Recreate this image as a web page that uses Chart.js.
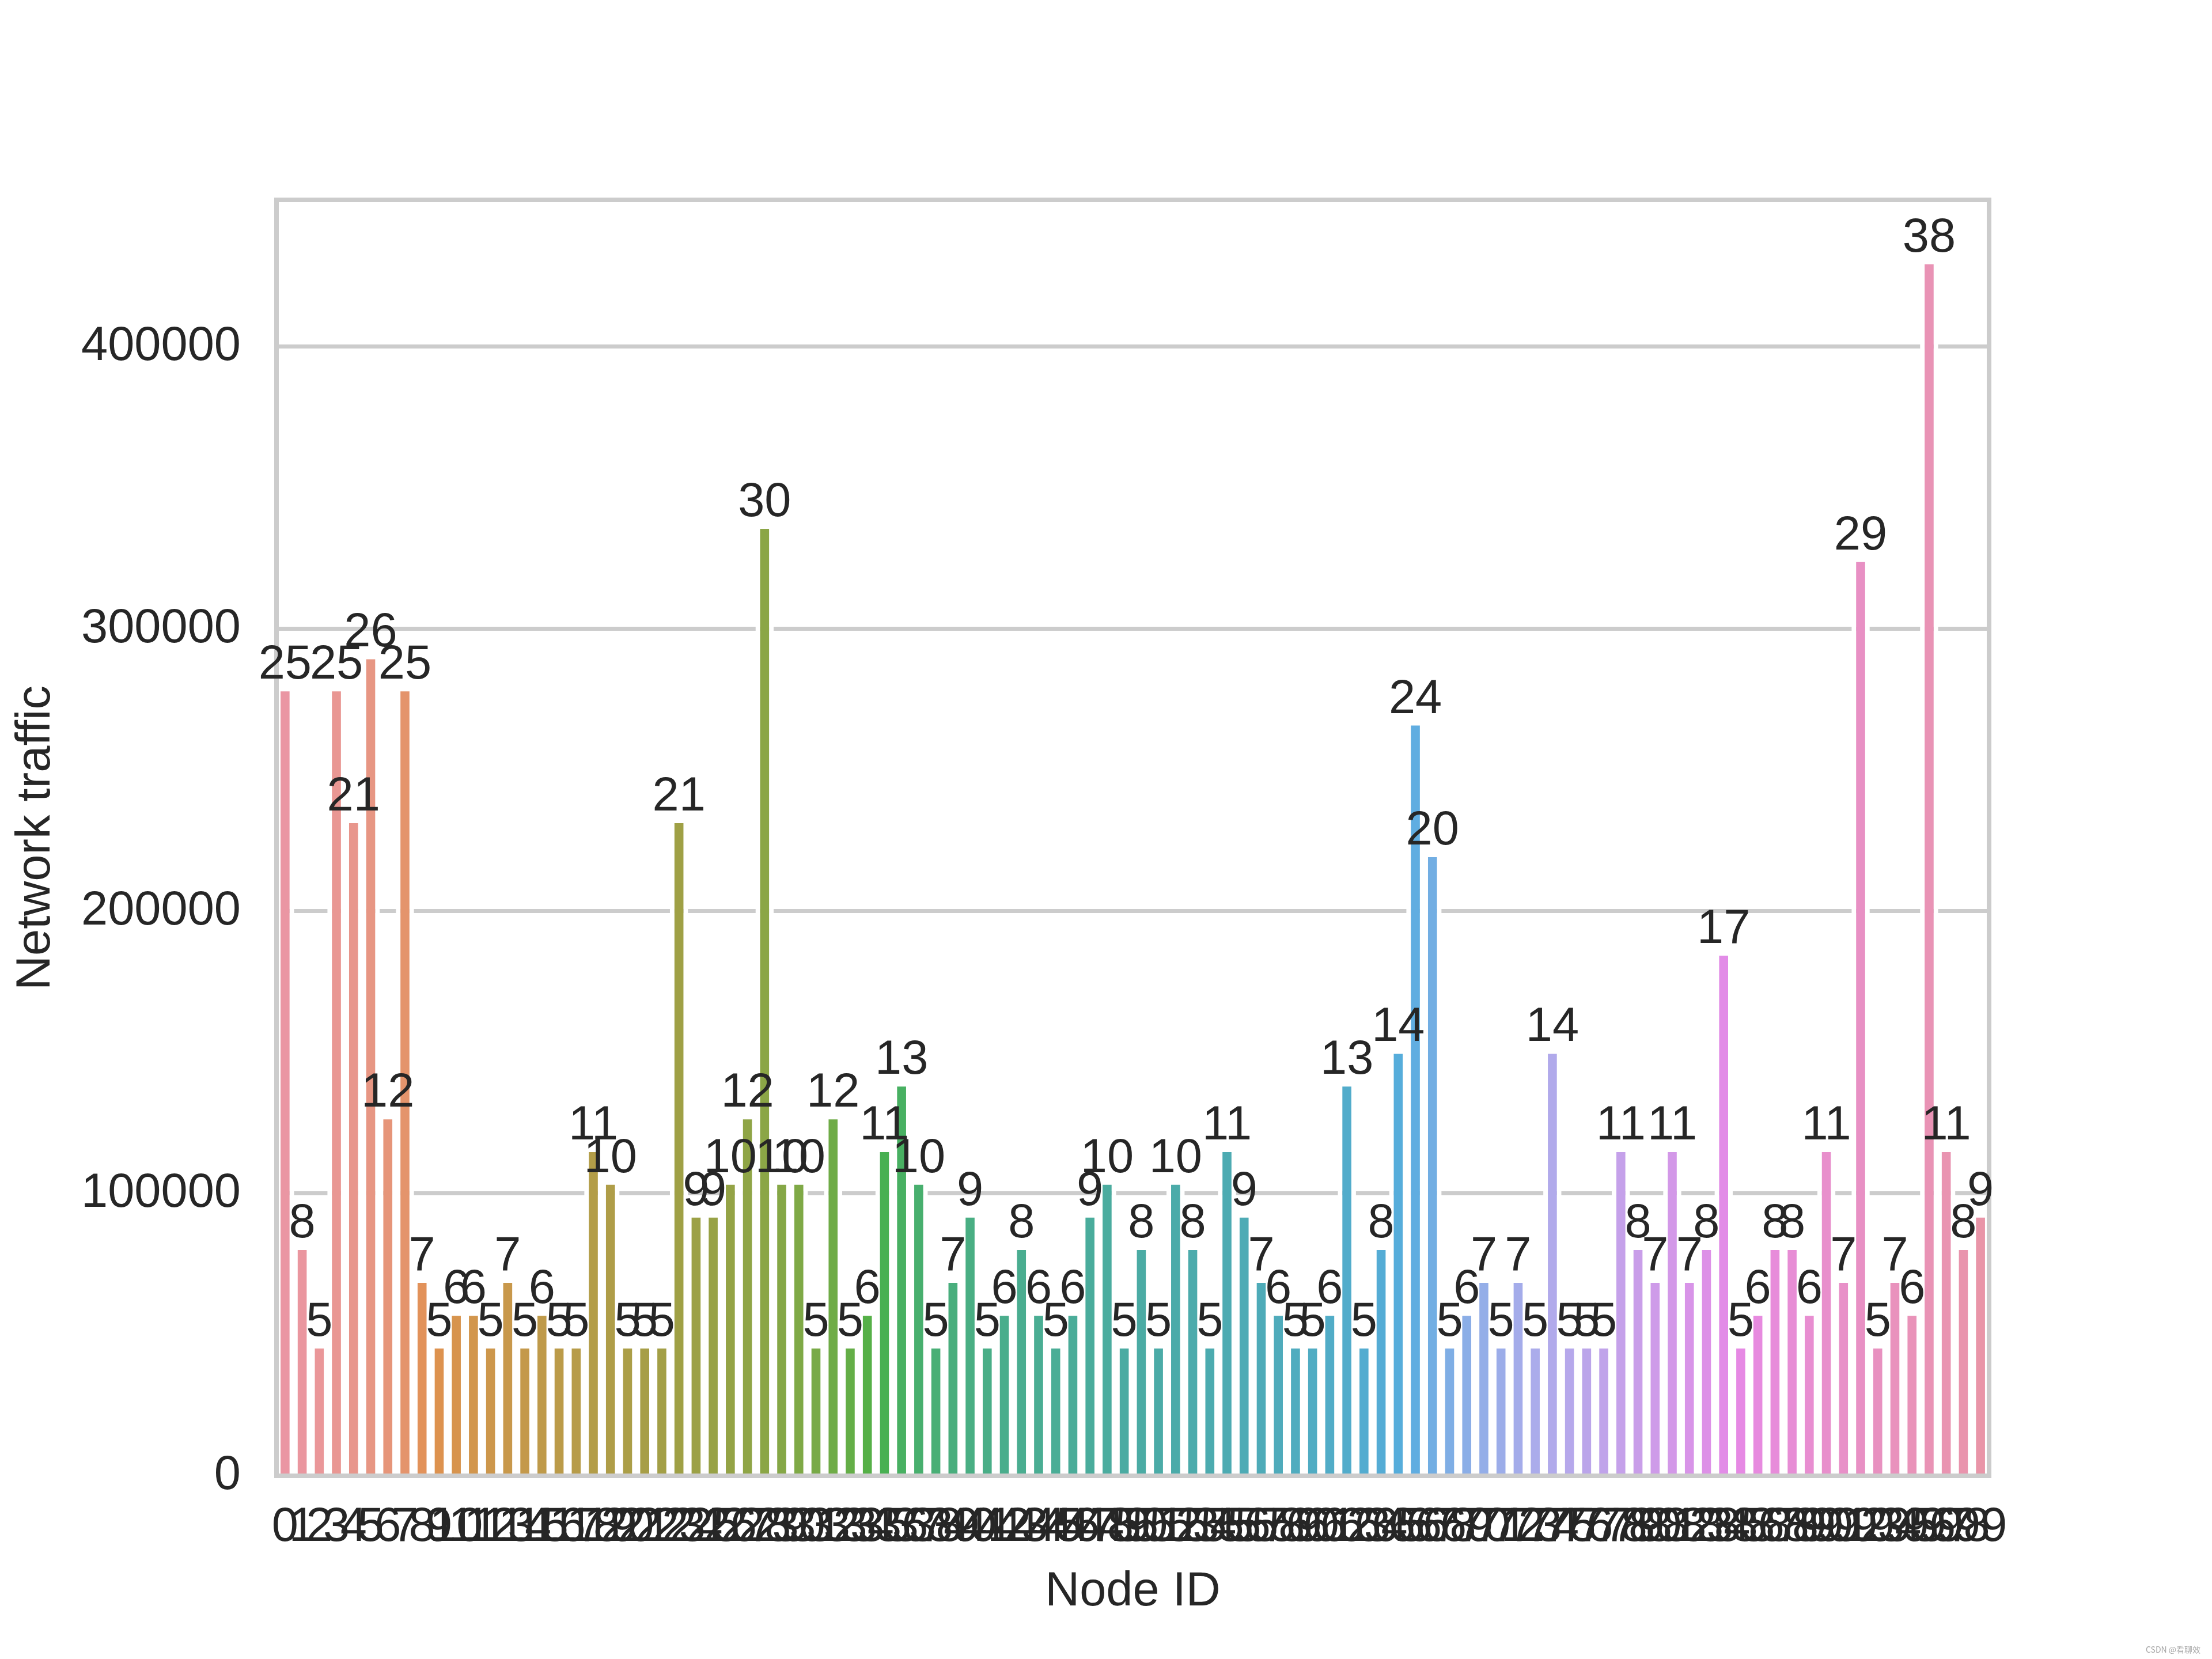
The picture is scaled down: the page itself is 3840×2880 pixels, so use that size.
<!DOCTYPE html>
<html>
<head>
<meta charset="utf-8">
<script src="https://cdn.jsdelivr.net/npm/chart.js@4.4.0/dist/chart.umd.min.js"></script>
<style>
  html, body { margin: 0; padding: 0; background: #fff; }
  #wrap { width: 3840px; height: 2880px; position: relative; }
</style>
</head>
<body>
<div id="wrap"><canvas id="chart" width="3840" height="2880"></canvas></div>
<script>
// node ids 0..99 on the x axis
const nodeIds = Array.from({length: 100}, (_, i) => String(i));

// numbers printed above each bar
const connectionCounts = [
    25, 8, 5, 25, 21, 26, 12, 25, 7, 5,
    6, 6, 5, 7, 5, 6, 5, 5, 11, 10,
    5, 5, 5, 21, 9, 9, 10, 12, 30, 10,
    10, 5, 12, 5, 6, 11, 13, 10, 5, 7,
    9, 5, 6, 8, 6, 5, 6, 9, 10, 5,
    8, 5, 10, 8, 5, 11, 9, 7, 6, 5,
    5, 6, 13, 5, 8, 14, 24, 20, 5, 6,
    7, 5, 7, 5, 14, 5, 5, 5, 11, 8,
    7, 11, 7, 8, 17, 5, 6, 8, 8, 6,
    11, 7, 29, 5, 7, 6, 38, 11, 8, 9
];

// bar heights (network traffic)
const trafficValues = [
    278700, 80800, 45900, 278700, 232000, 290100, 127100, 278700, 69200, 45900,
    57500, 57500, 45900, 69200, 45900, 57500, 45900, 45900, 115500, 103900,
    45900, 45900, 45900, 232000, 92300, 92300, 103900, 127100, 336300, 103900,
    103900, 45900, 127100, 45900, 57500, 115500, 138700, 103900, 45900, 69200,
    92300, 45900, 57500, 80800, 57500, 45900, 57500, 92300, 103900, 45900,
    80800, 45900, 103900, 80800, 45900, 115500, 92300, 69200, 57500, 45900,
    45900, 57500, 138700, 45900, 80800, 150300, 266600, 220000, 45900, 57500,
    69200, 45900, 69200, 45900, 150300, 45900, 45900, 45900, 115500, 80800,
    69200, 115500, 69200, 80800, 185100, 45900, 57500, 80800, 80800, 57500,
    115500, 69200, 324500, 45900, 69200, 57500, 430000, 115500, 80800, 92300
];

const yTicks = [0, 100000, 200000, 300000, 400000];

const FONT = '"Liberation Sans", Arial, sans-serif';
const TEXT = '#262626';

// --- husl palette (s=.9, l=.7) like old seaborn barplot, desaturated to 0.75 ---
const M = [
    [3.2406, -1.5372, -0.4986],
    [-0.9689, 1.8758, 0.0415],
    [0.0557, -0.2040, 1.0570]
];
const refU = 0.19784, refV = 0.46834, labE = 0.008856, labK = 903.3;

function maxChroma(L, H) {
    const hrad = H / 180 * Math.PI;
    const sinH = Math.sin(hrad), cosH = Math.cos(hrad);
    const sub1 = Math.pow(L + 16, 3) / 1560896;
    const sub2 = sub1 > labE ? sub1 : L / labK;
    let result = Infinity;
    M.forEach(row => {
        const [m1, m2, m3] = row;
        const top = (0.99915 * m1 + 1.05122 * m2 + 1.14460 * m3) * sub2;
        const rbottom = 0.86330 * m3 - 0.17266 * m2;
        const lbottom = 0.12949 * m3 - 0.38848 * m1;
        const bottom = (rbottom * sinH + lbottom * cosH) * sub2;
        [0, 1].forEach(t => {
            const C = L * (top - 1.05122 * t) / (bottom + 0.17266 * sinH * t);
            if (C > 0 && C < result) result = C;
        });
    });
    return result;
}

function fromLinear(c) {
    return c <= 0.0031308 ? 12.92 * c : 1.055 * Math.pow(c, 1 / 2.4) - 0.055;
}

function huslToRgb(h, s, l) {
    const C = maxChroma(l, h) / 100 * s;
    const hrad = h / 180 * Math.PI;
    const U = Math.cos(hrad) * C, V = Math.sin(hrad) * C;
    const varY = l > labK * labE ? Math.pow((l + 16) / 116, 3) : l / labK;
    const varU = U / (13 * l) + refU;
    const varV = V / (13 * l) + refV;
    const Y = varY;
    const X = 0 - (9 * Y * varU) / ((varU - 4) * varV - varU * varV);
    const Z = (9 * Y - 15 * varV * Y - varV * X) / (3 * varV);
    return M.map(r => Math.min(1, Math.max(0, fromLinear(r[0] * X + r[1] * Y + r[2] * Z))));
}

function rgbToHls(r, g, b) {
    const maxc = Math.max(r, g, b), minc = Math.min(r, g, b);
    const l = (minc + maxc) / 2;
    if (minc === maxc) return [0, l, 0];
    const s = l <= 0.5 ? (maxc - minc) / (maxc + minc) : (maxc - minc) / (2 - maxc - minc);
    const rc = (maxc - r) / (maxc - minc), gc = (maxc - g) / (maxc - minc), bc = (maxc - b) / (maxc - minc);
    let h;
    if (r === maxc) h = bc - gc;
    else if (g === maxc) h = 2 + rc - bc;
    else h = 4 + gc - rc;
    h = ((h / 6) % 1 + 1) % 1;
    return [h, l, s];
}

function hlsToRgb(h, l, s) {
    if (s === 0) return [l, l, l];
    const m2 = l <= 0.5 ? l * (1 + s) : l + s - l * s;
    const m1 = 2 * l - m2;
    const v = (hue) => {
        hue = ((hue % 1) + 1) % 1;
        if (hue < 1 / 6) return m1 + (m2 - m1) * hue * 6;
        if (hue < 0.5) return m2;
        if (hue < 2 / 3) return m1 + (m2 - m1) * (2 / 3 - hue) * 6;
        return m1;
    };
    return [v(h + 1 / 3), v(h), v(h - 1 / 3)];
}

function barPalette(n) {
    const out = [];
    for (let i = 0; i < n; i++) {
        const hue = ((i / n + 0.01) % 1) * 359;
        const rgb = huslToRgb(hue, 0.9 * 99, 0.7 * 99);
        const [h, l, s] = rgbToHls(rgb[0], rgb[1], rgb[2]);
        const d = hlsToRgb(h, l, s * 0.75);
        out.push('rgb(' + d.map(c => Math.round(c * 255)).join(',') + ')');
    }
    return out;
}

const barColors = barPalette(nodeIds.length);

const framePlugin = {
    id: 'frame',
    afterDatasetsDraw(chart) {
        const ctx = chart.ctx;
        const a = chart.chartArea;
        ctx.save();
        ctx.strokeStyle = '#cccccc';
        ctx.lineWidth = 8;
        ctx.strokeRect(a.left, a.top, a.right - a.left, a.bottom - a.top);

        // count labels on top of the bars
        const meta = chart.getDatasetMeta(0);
        ctx.fillStyle = TEXT;
        ctx.font = '83px ' + FONT;
        ctx.textAlign = 'center';
        ctx.textBaseline = 'alphabetic';
        meta.data.forEach((bar, i) => {
            ctx.fillText(String(connectionCounts[i]), bar.x, bar.y - 18);
        });

        // watermark
        ctx.fillStyle = '#a6a6a6';
        ctx.font = '14px "Noto Sans CJK SC", ' + FONT;
        ctx.textAlign = 'left';
        ctx.textBaseline = 'middle';
        ctx.fillText('CSDN @看聊效', 3725, 2864);
        ctx.restore();
    }
};

new Chart(document.getElementById('chart').getContext('2d'), {
    type: 'bar',
    data: {
        labels: nodeIds,
        datasets: [{
            data: trafficValues,
            backgroundColor: barColors,
            borderColor: '#ffffff',
            borderWidth: {top: 4, left: 8, right: 8, bottom: 0},
            borderSkipped: false,
            barPercentage: 1.063,
            categoryPercentage: 1
        }]
    },
    options: {
        responsive: false,
        animation: false,
        devicePixelRatio: 1,
        layout: { padding: { top: 347, right: 387, bottom: 0, left: 0 } },
        plugins: {
            legend: { display: false },
            tooltip: { enabled: false }
        },
        scales: {
            x: {
                grid: { display: false, drawTicks: false },
                border: { display: false },
                ticks: {
                    autoSkip: false,
                    maxRotation: 0,
                    minRotation: 0,
                    padding: 40,
                    color: TEXT,
                    font: { family: FONT, size: 83 }
                },
                title: {
                    display: true,
                    text: 'Node ID',
                    color: TEXT,
                    font: { family: FONT, size: 83 },
                    padding: { top: 0, bottom: 66 }
                },
                afterFit(scale) { scale.height = 318; }
            },
            y: {
                min: 0,
                max: 452000,
                grid: { color: '#cccccc', lineWidth: 7, drawTicks: false },
                border: { display: false },
                afterBuildTicks(scale) {
                    scale.ticks = yTicks.map(v => ({value: v}));
                },
                ticks: {
                    padding: 62,
                    color: TEXT,
                    font: { family: FONT, size: 83 },
                    callback: (v) => String(v)
                },
                title: {
                    display: true,
                    text: 'Network traffic',
                    color: TEXT,
                    font: { family: FONT, size: 83 },
                    padding: { top: 13, bottom: 0 }
                },
                afterFit(scale) { scale.width = 480; }
            }
        }
    },
    plugins: [framePlugin]
});
</script>
</body>
</html>
